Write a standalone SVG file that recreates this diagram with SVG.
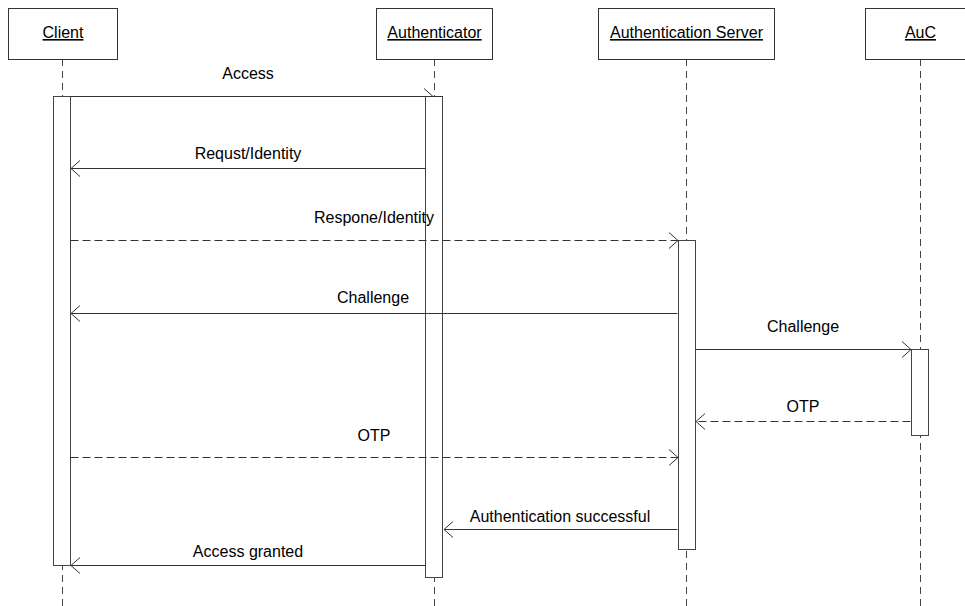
<svg xmlns="http://www.w3.org/2000/svg" width="965" height="606" viewBox="0 0 965 606">
<style>
.box{fill:#fff;stroke:#333;stroke-width:1}
.life{stroke:#444;stroke-width:1;stroke-dasharray:7,5;fill:none}
.bar{fill:#fff;stroke:#444;stroke-width:1}
.msg{stroke:#333;stroke-width:1;fill:none}
.dash{stroke-dasharray:8,4}
.head{stroke:#333;stroke-width:1;fill:none}
text{font-family:"Liberation Sans",Arial,sans-serif;font-size:16px;fill:#000}
.name{text-decoration:underline;text-anchor:middle}
.lbl{text-anchor:middle}
</style>
<rect width="965" height="606" fill="#fff"/>
<g id="lifelines">
<line class="life" x1="62.5" y1="59" x2="62.5" y2="606"/>
<line class="life" x1="434.5" y1="59" x2="434.5" y2="606"/>
<line class="life" x1="686.5" y1="59" x2="686.5" y2="606"/>
<line class="life" x1="920.5" y1="59" x2="920.5" y2="606"/>
</g>
<g id="activations">
<rect class="bar" x="53.5" y="96.5" width="17" height="469"/>
<rect class="bar" x="425.5" y="96.5" width="17" height="481"/>
<rect class="bar" x="678.5" y="240.5" width="17" height="309"/>
<rect class="bar" x="911.5" y="349.5" width="17" height="86"/>
</g>
<g id="connectors">
<g id="m1"><line class="msg" x1="70.5" y1="96.5" x2="443" y2="96.5"/><line class="head" x1="424" y1="88.5" x2="433" y2="96.5"/><text class="lbl" x="248" y="79">Access</text></g>
<g id="m2"><line class="msg" x1="425.5" y1="168.5" x2="71" y2="168.5"/><polyline class="head" points="80,160.5 71,168.5 80,176.5"/><text class="lbl" x="248" y="159">Requst/Identity</text></g>
<g id="m3"><line class="msg dash" x1="70.5" y1="240.5" x2="678" y2="240.5"/><polyline class="head" points="669,232.5 678,240.5 669,248.5"/><text class="lbl" x="374" y="223">Respone/Identity</text></g>
<g id="m4"><line class="msg" x1="677.5" y1="313.5" x2="71" y2="313.5"/><polyline class="head" points="80,305.5 71,313.5 80,321.5"/><text class="lbl" x="373" y="303">Challenge</text></g>
<g id="m5"><line class="msg" x1="695.5" y1="349.5" x2="911" y2="349.5"/><polyline class="head" points="902,341.5 911,349.5 902,357.5"/><text class="lbl" x="803" y="332">Challenge</text></g>
<g id="m6"><line class="msg dash" x1="910.5" y1="421.5" x2="696" y2="421.5"/><polyline class="head" points="705,413.5 696,421.5 705,429.5"/><text class="lbl" x="803" y="412">OTP</text></g>
<g id="m7"><line class="msg dash" x1="70.5" y1="457.5" x2="678" y2="457.5"/><polyline class="head" points="669,449.5 678,457.5 669,465.5"/><text class="lbl" x="374" y="441">OTP</text></g>
<g id="m8"><line class="msg" x1="677.5" y1="529.5" x2="444" y2="529.5"/><polyline class="head" points="453,521.5 444,529.5 453,537.5"/><text class="lbl" x="560" y="522">Authentication successful</text></g>
<g id="m9"><line class="msg" x1="425.5" y1="565.5" x2="71" y2="565.5"/><polyline class="head" points="80,557.5 71,565.5 80,573.5"/><text class="lbl" x="248" y="557">Access granted</text></g>
</g>
<g id="client"><rect class="box" x="8.5" y="8.5" width="109" height="51"/><text class="name" x="63" y="38">Client</text></g>
<g id="authenticator"><rect class="box" x="376.5" y="8.5" width="116" height="51"/><text class="name" x="434.5" y="38">Authenticator</text></g>
<g id="authserver"><rect class="box" x="598.5" y="8.5" width="176" height="51"/><text class="name" x="686.5" y="38">Authentication Server</text></g>
<g id="auc"><rect class="box" x="865.5" y="8.5" width="110" height="51"/><text class="name" x="920.5" y="38">AuC</text></g>
</svg>
